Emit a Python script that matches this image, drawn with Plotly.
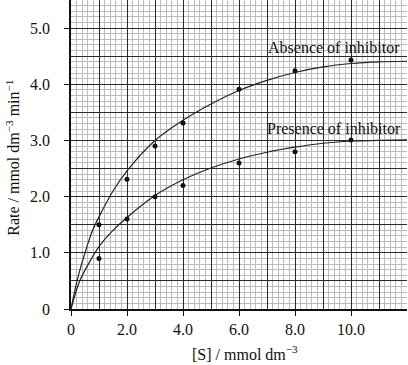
import plotly.graph_objects as go

# Measured data points
s_points = [1, 2, 3, 4, 6, 8, 10]
rate_absence = [1.50, 2.31, 2.90, 3.31, 3.91, 4.24, 4.43]
rate_presence = [0.90, 1.60, 2.00, 2.20, 2.60, 2.80, 3.01]

# Hand-drawn best-fit curves
curve_abs_s = [0, 0.225, 0.5, 0.78, 1, 1.5, 2, 3, 4, 5, 6, 7, 8, 9, 10, 11, 12]
curve_abs_r = [0, 0.52, 1.00, 1.41, 1.64, 2.10, 2.46, 3.00, 3.36, 3.65, 3.89, 4.07, 4.21, 4.31, 4.37, 4.40, 4.41]
curve_pre_s = [0, 0.33, 1, 1.5, 2, 3, 4, 5, 6, 7, 8, 9, 10, 11, 12]
curve_pre_r = [0, 0.52, 1.11, 1.40, 1.63, 2.02, 2.30, 2.51, 2.67, 2.79, 2.88, 2.95, 2.99, 3.00, 3.01]

x_tickvals = [0, 2, 4, 6, 8, 10]
x_ticktext = ["0", "2.0", "4.0", "6.0", "8.0", "10.0"]
y_tickvals = [0, 1, 2, 3, 4, 5]
y_ticktext = ["0", "1.0", "2.0", "3.0", "4.0", "5.0"]

FONT = "Liberation Serif, Times New Roman, serif"
MAJOR = "#2a2a2a"
MINOR = "#bcbcbc"
XR = [0, 12]
YR = [0, 5.5]

fig = go.Figure()
fig.add_trace(go.Scatter(x=curve_abs_s, y=curve_abs_r, mode="lines",
                         line=dict(color="#222", width=1.2, shape="spline", smoothing=0.8),
                         showlegend=False, hoverinfo="skip"))
fig.add_trace(go.Scatter(x=curve_pre_s, y=curve_pre_r, mode="lines",
                         line=dict(color="#222", width=1.2, shape="spline", smoothing=0.8),
                         showlegend=False, hoverinfo="skip"))
fig.add_trace(go.Scatter(x=s_points, y=rate_absence, mode="markers",
                         marker=dict(color="#111", size=5), showlegend=False))
fig.add_trace(go.Scatter(x=s_points, y=rate_presence, mode="markers",
                         marker=dict(color="#111", size=5), showlegend=False))
# empty trace to activate the labelled overlay axes
fig.add_trace(go.Scatter(x=[None], y=[None], mode="markers", xaxis="x2", yaxis="y2",
                         showlegend=False, hoverinfo="skip"))

fig.add_annotation(x=9.40, y=4.66, text="Absence of inhibitor",
                   showarrow=False, font=dict(family=FONT, size=16, color="#111"))
fig.add_annotation(x=9.38, y=3.22, text="Presence of inhibitor",
                   showarrow=False, font=dict(family=FONT, size=16, color="#111"))

fig.add_annotation(x=0.518, y=-0.142, xref="paper", yref="paper",
                   text="[S] / mmol dm<sup>−3</sup>", showarrow=False,
                   xanchor="center", yanchor="middle",
                   font=dict(family=FONT, size=16, color="#111"))
fig.add_annotation(x=-0.175, y=0.49, xref="paper", yref="paper",
                   text="Rate / mmol dm<sup>−3</sup> min<sup>−1</sup>", showarrow=False,
                   textangle=-90, xanchor="center", yanchor="middle",
                   font=dict(family=FONT, size=16, color="#111"))

fig.update_layout(
    width=408, height=365,
    margin=dict(l=71, r=1, t=0, b=56),
    paper_bgcolor="white", plot_bgcolor="white",
    xaxis=dict(range=XR, dtick=1, tick0=0, showgrid=True, gridcolor=MAJOR, gridwidth=1,
               minor=dict(dtick=0.2, showgrid=True, gridcolor=MINOR, gridwidth=1),
               showticklabels=False, ticks="", zeroline=False, showline=False, fixedrange=True),
    yaxis=dict(range=YR, dtick=0.5, tick0=0, showgrid=True, gridcolor=MAJOR, gridwidth=1,
               minor=dict(dtick=0.1, showgrid=True, gridcolor=MINOR, gridwidth=1),
               showticklabels=False, ticks="", zeroline=False, showline=False, fixedrange=True),
    xaxis2=dict(range=XR, overlaying="x", anchor="y2", side="bottom",
                tickmode="array", tickvals=x_tickvals, ticktext=x_ticktext,
                ticks="outside", ticklen=5, tickcolor="#111", tickwidth=1,
                showgrid=False, zeroline=False, showline=True, linecolor="#111", linewidth=1.5,
                tickfont=dict(family=FONT, size=16, color="#111"), ticklabelstandoff=0,
                fixedrange=True),
    yaxis2=dict(range=YR, overlaying="y", anchor="x2", side="left",
                tickmode="array", tickvals=y_tickvals, ticktext=y_ticktext,
                ticks="outside", ticklen=5, tickcolor="#111", tickwidth=1,
                showgrid=False, zeroline=False, showline=True, linecolor="#111", linewidth=1.5,
                tickfont=dict(family=FONT, size=16, color="#111"), ticklabelstandoff=11,
                fixedrange=True),
)

fig.write_html("out.html", config={"displayModeBar": False},
               post_script="document.body.style.margin='0';")
